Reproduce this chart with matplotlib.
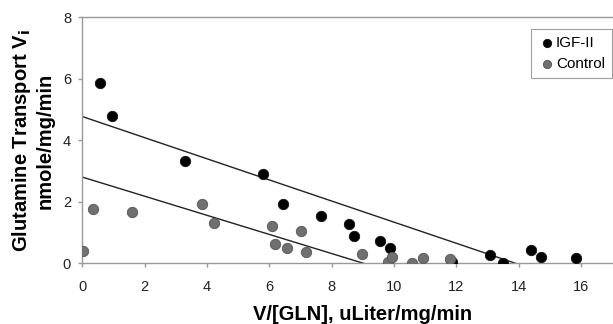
import numpy as np
import matplotlib.pyplot as plt

plt.rcParams['font.family'] = ['Liberation Sans', 'DejaVu Sans']

# Eadie-Hofstee data: V/[GLN] (x) vs transport rate V (y)
igf_x = [0.57, 0.97, 3.31, 5.81, 6.43, 7.67, 8.55, 8.70, 9.54, 9.86,
         11.86, 13.09, 13.50, 14.38, 14.70, 15.83]
igf_y = [5.87, 4.79, 3.32, 2.91, 1.92, 1.54, 1.27, 0.88, 0.73, 0.49,
         0.05, 0.26, 0.00, 0.43, 0.22, 0.16]

ctrl_x = [0.03, 0.35, 1.61, 3.85, 4.24, 6.08, 6.17, 6.57, 7.02, 7.17,
          8.98, 9.81, 9.94, 10.58, 10.92, 11.80]
ctrl_y = [0.41, 1.77, 1.66, 1.93, 1.30, 1.22, 0.62, 0.49, 1.06, 0.38,
          0.29, 0.05, 0.22, 0.00, 0.18, 0.13]

# fitted lines: y-intercept (Vmax) and x-intercept
fit_vmax = [4.78, 2.81]
fit_xint = [13.9, 9.03]

fig = plt.figure(figsize=(6.13, 3.24), dpi=100)
ax = fig.add_axes([0.134, 0.187, 0.916, 0.759])

for vmax, xint in zip(fit_vmax, fit_xint):
    ax.plot([0, xint], [vmax, 0], color='#222222', lw=1.0, zorder=2)

ax.scatter(igf_x, igf_y, s=56, color='black', edgecolor='#111111',
           lw=0.6, label='IGF-II', zorder=3)
ax.scatter(ctrl_x, ctrl_y, s=56, color='#707070', edgecolor='#555555',
           lw=0.6, label='Control', zorder=3)

ax.set_xlim(0, 18)
ax.set_ylim(0, 8)
ax.set_xticks(np.arange(0, 17, 2))
ax.set_yticks(np.arange(0, 9, 2))
for s in ax.spines.values():
    s.set_color('#999999')
    s.set_linewidth(1.0)
ax.tick_params(colors='#999999', labelcolor='#222222', labelsize=10.5,
               length=3, width=1.0)
ax.tick_params(axis='x', pad=9)
ax.tick_params(axis='y', pad=5)

ax.set_xlabel('V/[GLN], uLiter/mg/min', fontsize=14.5, fontweight='bold',
              labelpad=8)
ax.set_ylabel('Glutamine Transport V$_\\mathbf{i}$\nnmole/mg/min',
              fontsize=14.5, fontweight='bold', labelpad=6,
              linespacing=1.15)

leg = fig.legend(loc='upper right', bbox_to_anchor=(0.998, 0.91),
                 frameon=True, fancybox=False, fontsize=11,
                 handletextpad=0.0, borderpad=0.45, labelspacing=0.45,
                 handlelength=1.2, markerscale=0.8, borderaxespad=0)
leg.get_frame().set_edgecolor('#888888')
leg.get_frame().set_linewidth(0.8)

fig.savefig('out.png', dpi=100)
